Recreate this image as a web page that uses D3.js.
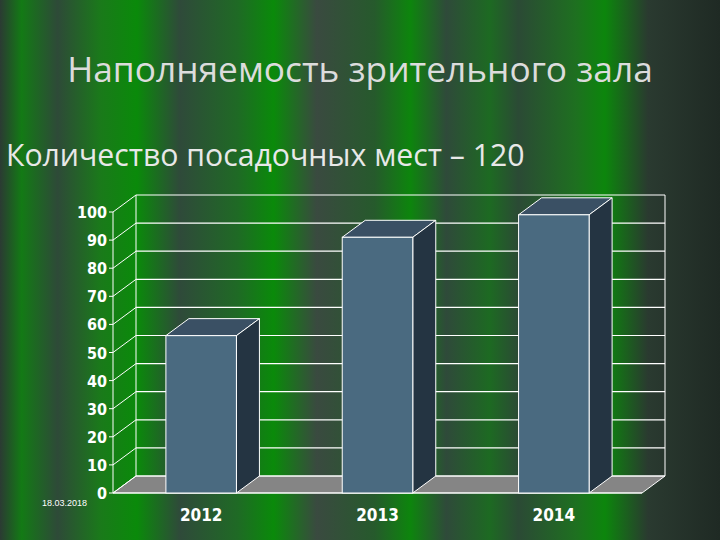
<!DOCTYPE html><html><head><meta charset="utf-8"><script src="https://cdn.jsdelivr.net/npm/d3@7"></script>
<style>body{margin:0;background:#222}</style></head><body><svg id="c" width="720" height="540"></svg>
<script>
const categories=["2012","2013","2014"];
const values=[56,91,99];
const ticks=[0,10,20,30,40,50,60,70,80,90,100];
const title="Наполняемость зрительного зала";
const subtitle="Количество посадочных мест – 120";

const svg=d3.select("#c");
const defs=svg.append("defs");
const g=defs.append("linearGradient").attr("id","bg");
[[0,"#2b3b33"],[0.03,"#137a15"],[0.08,"#2e4a38"],[0.14,"#1a7a1a"],[0.19,"#0a8a0a"],[0.25,"#2f4a3a"],[0.33,"#1f6a25"],[0.38,"#0a8a0a"],[0.44,"#3a4a40"],[0.52,"#265a2c"],[0.57,"#0d850d"],[0.62,"#2f4a3a"],[0.68,"#1d6a22"],[0.72,"#2b4a35"],[0.8,"#1e7020"],[0.84,"#0c860c"],[0.9,"#2a3a30"],[1,"#1f2a24"]]
.forEach(([o,c])=>g.append("stop").attr("offset",o).attr("stop-color",c));
svg.append("rect").attr("width",720).attr("height",540).attr("fill","url(#bg)");

svg.append("text").attr("x",360).attr("y",82).attr("text-anchor","middle").attr("font-family","Open Sans, sans-serif").attr("font-size",35.3).attr("fill","#dcdcdc").text(title);
svg.append("text").attr("x",6).attr("y",166).attr("font-family","Open Sans, sans-serif").attr("font-size",30.2).attr("fill","#e8e8e8").text(subtitle);

const x0=113,x1=642,dx=23,dy=-17;
const y=d3.scaleLinear().domain([0,100]).range([493,212]);
const x=d3.scaleBand().domain(categories).range([x0,x1]).paddingInner(0.6).paddingOuter(0.3);
const W="#ffffff";
const F="DejaVu Sans Condensed, DejaVu Sans, sans-serif";
svg.append("path").attr("d",`M${x0},${y(0)}L${x1},${y(0)}L${x1+dx},${y(0)+dy}L${x0+dx},${y(0)+dy}Z`).attr("fill","#858585").attr("stroke",W);
ticks.forEach(t=>{
 svg.append("line").attr("x1",x0+dx).attr("x2",x1+dx).attr("y1",y(t)+dy).attr("y2",y(t)+dy).attr("stroke",W).attr("stroke-width",1.2);
 svg.append("line").attr("x1",x0).attr("x2",x0+dx).attr("y1",y(t)).attr("y2",y(t)+dy).attr("stroke",W);
 svg.append("line").attr("x1",x0-4).attr("x2",x0).attr("y1",y(t)).attr("y2",y(t)).attr("stroke",W);
 svg.append("text").attr("x",x0-6).attr("y",y(t)+6).attr("text-anchor","end").attr("font-family",F).attr("font-weight","bold").attr("font-size",16).attr("fill","#fff").text(t);
});
svg.append("line").attr("x1",x0+dx).attr("x2",x0+dx).attr("y1",y(0)+dy).attr("y2",y(100)+dy).attr("stroke",W);
svg.append("line").attr("x1",x1+dx).attr("x2",x1+dx).attr("y1",y(0)+dy).attr("y2",y(100)+dy).attr("stroke",W);
svg.append("line").attr("x1",x0).attr("x2",x0).attr("y1",y(0)).attr("y2",y(100)).attr("stroke",W);
svg.append("line").attr("x1",x0).attr("x2",x1).attr("y1",y(0)).attr("y2",y(0)).attr("stroke",W);
categories.forEach((c,i)=>{
 const bx=x(c),bw=x.bandwidth(),t=y(values[i]),b=y(0);
 svg.append("path").attr("d",`M${bx},${t}L${bx+dx},${t+dy}L${bx+bw+dx},${t+dy}L${bx+bw},${t}Z`).attr("fill","#3a5064").attr("stroke",W);
 svg.append("path").attr("d",`M${bx+bw},${t}L${bx+bw+dx},${t+dy}L${bx+bw+dx},${b+dy}L${bx+bw},${b}Z`).attr("fill","#243442").attr("stroke",W);
 svg.append("rect").attr("x",bx).attr("y",t).attr("width",bw).attr("height",b-t).attr("fill","#4a6a80").attr("stroke",W);
 svg.append("text").attr("x",bx+bw/2).attr("y",521).attr("text-anchor","middle").attr("font-family",F).attr("font-weight","bold").attr("font-size",17).attr("fill","#fff").text(c);
});
svg.append("text").attr("x",42).attr("y",506).attr("font-family","Liberation Sans, sans-serif").attr("font-size",9).attr("fill","#fff").text("18.03.2018");
</script></body></html>
